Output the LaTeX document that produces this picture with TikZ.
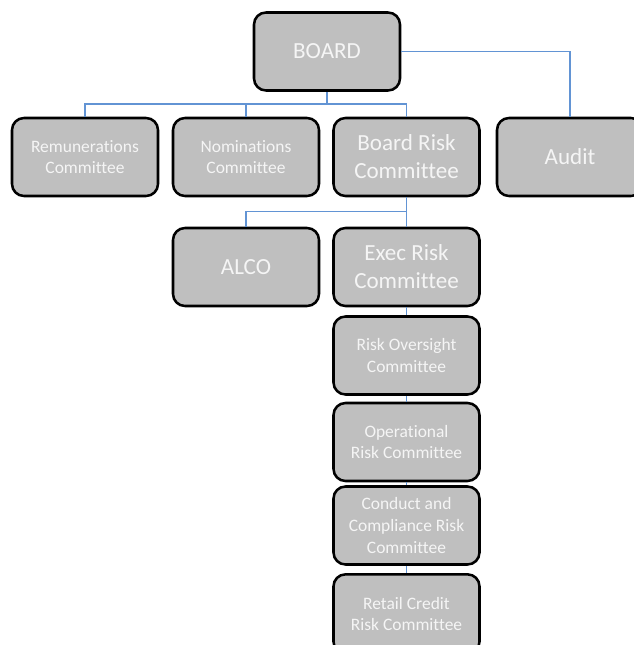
\documentclass[tikz,border=0pt]{standalone}
\usepackage{fontspec}
\setmainfont{Carlito}[Ligatures={NoCommon}]
\definecolor{boxfill}{RGB}{191,191,191}
\definecolor{boxtext}{RGB}{245,245,245}
\definecolor{linkblue}{RGB}{98,148,212}
\tikzset{
  orgbox/.style={draw=black, line width=1.9pt, fill=boxfill, rounded corners=9pt,
    minimum width=109.5pt, minimum height=58.5pt, inner sep=0pt, align=center,
    text=boxtext},
  bigtext/.style={font=\fontsize{17.3pt}{21pt}\selectfont},
  smalltext/.style={font=\fontsize{13.1pt}{16.2pt}\selectfont},
  link/.style={draw=linkblue, line width=1.1pt}
}
\begin{document}
\begin{tikzpicture}[x=0.75pt,y=-0.75pt]
\useasboundingbox (0,0) rectangle (634,645);
\clip (0,0) rectangle (634,645);
% boxes
\node[orgbox,bigtext] (board) at (327,51.5) {BOARD};
\node[orgbox,smalltext] (rem) at (85,157) {Remunerations\\Committee};
\node[orgbox,smalltext] (nom) at (246,157) {Nominations\\Committee};
\node[orgbox,bigtext] (brc) at (406.5,157) {Board Risk\\Committee};
\node[orgbox,bigtext] (audit) at (570,157) {Audit};
\node[orgbox,bigtext] (alco) at (246,267) {ALCO};
\node[orgbox,bigtext] (exec) at (406.5,267) {Exec Risk\\Committee};
\node[orgbox,smalltext] (ro) at (406.5,355.5) {Risk Oversight\\Committee};
\node[orgbox,smalltext] (op) at (406.5,442) {Operational\\Risk Committee};
\node[orgbox,smalltext] (cc) at (406.5,525.5) {Conduct and\\Compliance Risk\\Committee};
\node[orgbox,smalltext,minimum height=59.5pt] (rc) at (406.5,614) {Retail Credit\\Risk Committee};
% connectors
\coordinate (j1) at (327,104);
\coordinate (j2) at (406.5,211.5);
\draw[link] (board.south) -- (j1);
\draw[link] (rem.north) |- (j1) -| (brc.north);
\draw[link] (nom.north) -- (nom.north |- j1);
\draw[link] (board.east) -| (audit.north);
\draw[link] (brc.south) -- (exec.north);
\draw[link] (alco.north) |- (j2);
\draw[link] (exec.south) -- (ro.north);
\draw[link] (ro.south) -- (op.north);
\draw[link] (op.south) -- (cc.north);
\draw[link] (cc.south) -- (rc.north);
\end{tikzpicture}
\end{document}
